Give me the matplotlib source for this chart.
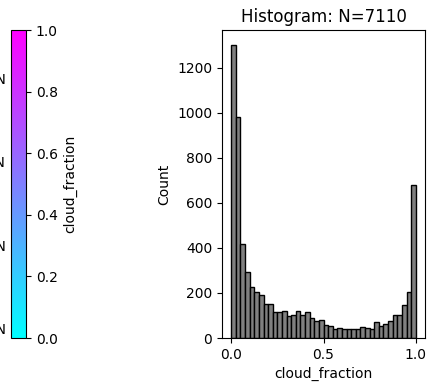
import matplotlib
matplotlib.use("Agg")
from matplotlib import pyplot as plt
import matplotlib as mpl
import numpy as np

# 40 bins over [0, 1], counts
bin_edges = np.linspace(0, 1, 41)
counts = [1303, 982, 418, 292, 228, 203, 191, 149, 152, 114,
          114, 121, 96, 102, 121, 102, 116, 90, 77, 81,
          58, 53, 40, 46, 40, 40, 40, 40, 49, 44,
          38, 71, 54, 63, 77, 102, 102, 148, 205, 680]
n_total = 7110
lat_labels = ["40°N", "30°N", "20°N", "10°N"]
cbar_ticks = [0.0, 0.2, 0.4, 0.6, 0.8, 1.0]

W, H = 436, 392
fig = plt.figure(figsize=(W / 100, H / 100), dpi=100)

# colorbar on the left (map panel itself falls outside the crop)
cax = fig.add_axes([11 / W, 54 / H, 15 / W, 308 / H])
norm = mpl.colors.Normalize(vmin=0, vmax=1)
cb = fig.colorbar(mpl.cm.ScalarMappable(norm=norm, cmap="cool"), cax=cax)
cb.set_ticks(cbar_ticks)
cb.set_label("cloud_fraction")

# leftover latitude labels of the cut-off map
for lab, y in zip(lat_labels, [80, 163, 247, 330]):
    fig.text(6 / W, 1 - y / H, lab, ha="right", va="center", fontsize=10)

ax = fig.add_axes([222 / W, 54 / H, 203 / W, 308 / H])
centers = (bin_edges[:-1] + bin_edges[1:]) / 2
ax.hist(centers, bins=bin_edges, weights=counts, color="gray", edgecolor="black")
ax.set_title(f"Histogram: N={n_total}")
ax.set_xlabel("cloud_fraction")
ax.set_ylabel("Count")

fig.savefig("out.png", dpi=100)
